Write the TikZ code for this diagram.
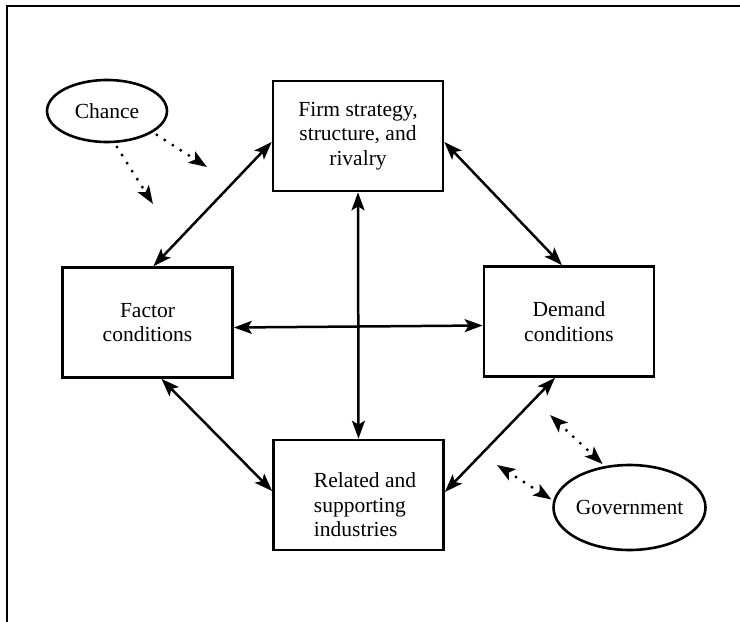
\documentclass[tikz,border=0pt]{standalone}
\usepackage{fontspec}
\setmainfont{Liberation Serif}
\usetikzlibrary{arrows.meta,shapes.geometric,calc}

\tikzset{
  txt/.style={font=\fontsize{21.5pt}{24.5pt}\selectfont},
  box/.style={draw, line width=2.7pt, minimum width=170pt, minimum height=110pt,
    inner sep=0pt, align=center, txt},
  oval/.style={draw, ellipse, line width=2.6pt, inner sep=0pt, txt},
  label/.style={inner sep=0pt, txt},
  tip/.style={Stealth[length=18pt,width=13pt,inset=4pt,line cap=butt]},
  link/.style={line width=2.5pt, {Stealth[length=18pt,width=13pt,inset=4pt]}-{Stealth[length=18pt,width=13pt,inset=4pt]}},
  dotlink/.style={line width=3.3pt, line cap=round, dash pattern=on 0pt off 9.5pt,
    -{Stealth[length=18pt,width=13pt,inset=4pt,line cap=butt]}},
  dotboth/.style={line width=3.3pt, line cap=round, dash pattern=on 0pt off 9.5pt,
    {Stealth[length=18pt,width=13pt,inset=4pt,line cap=butt]}-{Stealth[length=18pt,width=13pt,inset=4pt,line cap=butt]}},
}

\begin{document}
\begin{tikzpicture}[x=1pt, y=-1pt]
  % canvas and frame
  \fill[white] (0,0) rectangle (740,622);
  \useasboundingbox (0,0) rectangle (740,622);
  \draw[line width=2.6pt] (740,6) -- (7,6) -- (7,622);

  % the four determinants
  \node[box] (firm)   at (358,136)   {Firm strategy,\\structure, and\\rivalry};
  \node[box] (factor) at (147.5,322.5) {Factor\\conditions};
  \node[box] (demand) at (569,321.5) {Demand\\conditions};
  \node[box] (rel)    at (358.5,495) {};
  \node[label, align=left] (reltext) at (365,505) {Related and\\supporting\\industries};

  % outside influences
  \node[oval, minimum width=120pt, minimum height=62pt] (chance) at (107,111) {Chance};
  \node[oval, minimum width=131pt, minimum height=85pt] (gov) at (629.5,507.5) {Government};

  % links between determinants
  \draw[link] ([yshift=-6pt]firm.west) -- ([xshift=6pt]factor.north);
  \draw[link] ([yshift=-6pt]firm.east) -- ([xshift=-7pt]demand.north);
  \draw[link] ([xshift=14pt]factor.south) -- ([yshift=4pt]rel.west);
  \draw[link] ([xshift=-14pt]demand.south) -- ([yshift=3pt]rel.east);
  \draw[link] ([yshift=-5pt]factor.east) -- ([yshift=-4pt]demand.west);
  \draw[link] (firm.south) -- (rel.north);

  % chance influences
  \coordinate (ch1) at (153,204);
  \coordinate (ch2) at (207,167);
  \draw[dotlink] ($(chance.-76)+(2,4)$) -- (ch1);
  \draw[dotlink] ($(chance.-24)+(3,3)$) -- (ch2);

  % government influences
  \coordinate (gv1) at (550,415);
  \coordinate (gv2) at (497,465);
  \draw[dotboth] (gv1) -- ($(gov.121)+(-2,-2)$);
  \draw[dotboth] (gv2) -- ($(gov.174)+(-2,0)$);
\end{tikzpicture}
\end{document}
